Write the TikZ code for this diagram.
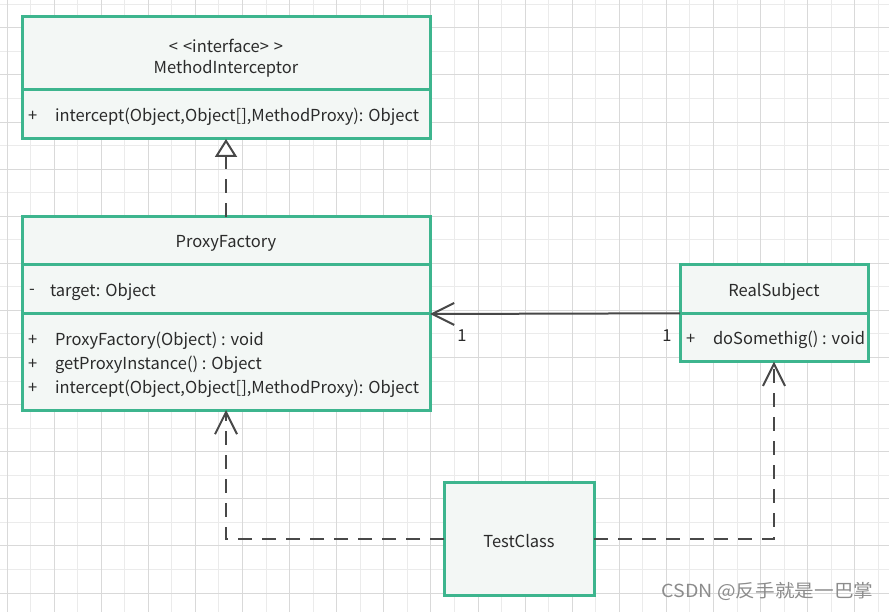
\documentclass[tikz,border=0pt]{standalone}
\usepackage{fontspec}
\setmainfont{Noto Sans CJK SC}
\usetikzlibrary{arrows.meta}
\definecolor{gridminor}{HTML}{EBEBEB}
\definecolor{gridmajor}{HTML}{D9D9D9}
\definecolor{umlgreen}{HTML}{3DB58E}
\definecolor{umlfill}{HTML}{F3F7F5}
\definecolor{linegray}{HTML}{484848}
\definecolor{textgray}{HTML}{2B2B2B}
\definecolor{wmgray}{HTML}{8C8C8C}
\tikzset{
  comp/.style={draw=umlgreen, fill=umlfill, line width=3pt, rectangle, inner sep=0pt, outer sep=0pt},
  txt/.style={inner sep=0pt, outer sep=0pt, text=textgray, font=\fontsize{16.5}{19}\selectfont, yshift=-1.5pt},
  ltxt/.style={txt, anchor=west},
  conn/.style={draw=linegray, line width=2pt},
  dashconn/.style={conn, dash pattern=on 14pt off 10pt},
  openhead/.style={-{Straight Barb[length=22pt,width=22pt,line width=2pt]}},
  realhead/.style={-{Triangle[open,length=18pt,width=22pt,line width=2pt,fill=white]}},
}
\begin{document}
\begin{tikzpicture}[x=1pt,y=-1pt]
\useasboundingbox (0,0) rectangle (889,612);
\fill[white] (0,0) rectangle (889,612);
% grid
\foreach \k in {0,...,37} {
  \draw[gridminor, line width=1pt] ({7+23.55*\k},0) -- ({7+23.55*\k},612);
}
\foreach \k in {0,...,26} {
  \draw[gridminor, line width=1pt] (0,{4.3+23.55*\k}) -- (889,{4.3+23.55*\k});
}
\foreach \k in {0,...,18} {
  \draw[gridmajor, line width=1pt] ({7+47.1*\k},0) -- ({7+47.1*\k},612);
}
\foreach \k in {0,...,12} {
  \draw[gridmajor, line width=1pt] (0,{27.85+47.1*\k}) -- (889,{27.85+47.1*\k});
}

% MethodInterceptor
\node[comp, minimum width=408pt, minimum height=73pt] (mihead) at (226,53.5) {};
\node[comp, minimum width=408pt, minimum height=49pt] (mibody) at (226,114.5) {};
\node[txt] (mist) at (226,44) {<\kern5pt<interface>\kern5pt>};
\node[txt] (miname) at (226,67) {MethodInterceptor};
\node[ltxt] (mip) at (28,115) {+};
\node[ltxt] (mim) at (55,115) {intercept(Object,Object[],MethodProxy): Object};

% ProxyFactory
\node[comp, minimum width=408pt, minimum height=48.3pt] (pfhead) at (226,240.85) {};
\node[comp, minimum width=408pt, minimum height=49pt] (pfattr) at (226,289.5) {};
\node[comp, minimum width=408pt, minimum height=96pt] (pfmeth) at (226,362) {};
\node[txt] (pfname) at (226,242) {ProxyFactory};
\node[ltxt] (pfam) at (29,290) {-};
\node[ltxt] (pfa) at (50,290) {target: Object};
\node[ltxt] (pfp1) at (28,339) {+};
\node[ltxt] (pfm1) at (55,339) {ProxyFactory(Object) : void};
\node[ltxt] (pfp2) at (28,363) {+};
\node[ltxt] (pfm2) at (55,363) {getProxyInstance() : Object};
\node[ltxt] (pfp3) at (28,387) {+};
\node[ltxt] (pfm3) at (55,387) {intercept(Object,Object[],MethodProxy): Object};

% RealSubject
\node[comp, minimum width=188pt, minimum height=48.3pt] (rshead) at (774,289.15) {};
\node[comp, minimum width=188pt, minimum height=48.4pt] (rsbody) at (774,337.5) {};
\node[txt] (rsname) at (774,290) {RealSubject};
\node[ltxt] (rsp) at (686,338) {+};
\node[ltxt] (rsm) at (713,338) {doSomethig() : void};

% TestClass
\node[comp, minimum width=150pt, minimum height=113pt] (tc) at (519,538.5) {};
\node[txt] (tcname) at (519,540) {TestClass};

% connectors
\draw[dashconn, realhead] (pfhead.north) -- (mibody.south);
\draw[conn, openhead] (rsbody.north west) -- (pfattr.south east);
\node[txt] (m1) at (462,334) {1};
\node[txt] (m2) at (667,334) {1};
\draw[dashconn, openhead] (tc.west) -| (pfmeth.south);
\draw[dashconn, openhead] (tc.east) -| (rsbody.south);

% watermark
\node[inner sep=0pt, text=wmgray, font=\fontsize{18}{20}\selectfont, xscale=1.09] (wm) at (767.5,591.5) {CSDN @反手就是一巴掌};
\end{tikzpicture}
\end{document}
